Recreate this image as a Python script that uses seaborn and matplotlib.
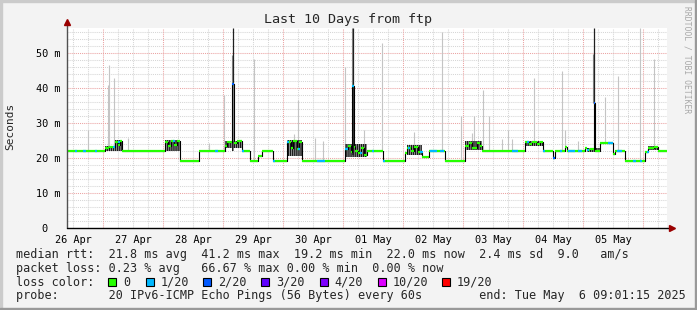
import numpy as np
import matplotlib
matplotlib.use("Agg")
import matplotlib.pyplot as plt
from matplotlib.patches import Rectangle
import seaborn as sns

# ---------------- data (x in days since 26 Apr 00:00, y in ms) ----------------
median_t = [0.395, 1.030, 1.100, 1.195, 1.250, 1.280, 1.312, 2.028, 2.080, 2.120,
            2.180, 2.220, 2.278, 2.595, 3.028, 3.060, 3.150, 3.175, 3.220, 3.312,
            3.445, 3.578, 3.645, 3.828, 4.062, 4.120, 4.160, 4.220, 4.260, 4.312,
            5.028, 5.080, 5.120, 5.150, 5.175, 5.200, 5.250, 5.300, 5.350, 5.395,
            5.662, 6.028, 6.062, 6.120, 6.180, 6.250, 6.312, 6.428, 6.695, 7.028,
            7.100, 7.150, 7.220, 7.270, 7.312, 8.028, 8.100, 8.150, 8.220, 8.280,
            8.328, 8.495, 8.528, 8.695, 8.728, 9.028, 9.062, 9.120, 9.170, 9.187,
            9.278, 9.495, 9.528, 9.695, 10.028, 10.078, 10.180, 10.245, 10.395]
median_v = [22.2, 22.8, 23.1, 24.6, 23.8, 24.8, 22.2, 24.6, 23.6, 24.9,
            23.8, 25.0, 19.3, 22.2, 23.6, 24.7, 41.2, 24.5, 24.8, 22.2,
            19.3, 20.6, 22.2, 19.3, 24.7, 23.0, 24.8, 22.6, 24.7, 19.3,
            22.6, 23.4, 21.8, 40.5, 23.2, 22.0, 21.6, 23.0, 20.8, 22.2,
            19.3, 21.5, 23.0, 22.0, 23.3, 21.8, 20.5, 22.2, 19.3, 23.5,
            24.3, 23.0, 24.5, 23.4, 22.2, 24.6, 24.0, 24.7, 24.1, 24.6,
            22.2, 20.0, 22.2, 23.3, 22.2, 23.0, 22.4, 22.7, 35.7, 22.2,
            24.4, 21.2, 22.2, 19.3, 21.8, 23.0, 23.1, 22.2, 22.2]

# packet-loss periods on the median line (level = lost pings out of 20)
loss_t0 = [0.528, 0.662, 0.862, 1.162, 1.245, 2.162, 2.862, 3.150, 3.312, 3.828,
           4.062, 4.245, 4.562, 5.028, 5.150, 5.278, 5.478, 5.662, 6.078, 6.278,
           6.445, 6.612, 7.812, 8.062, 8.328, 8.495, 8.612, 8.745, 8.912, 9.062,
           9.170, 9.412, 9.562, 9.828, 9.945, 10.062]
loss_t1 = [0.562, 0.712, 0.895, 1.195, 1.278, 2.195, 2.912, 3.175, 3.345, 3.862,
           4.095, 4.278, 4.695, 5.078, 5.175, 5.312, 5.512, 5.695, 6.112, 6.328,
           6.562, 6.678, 7.912, 8.095, 8.362, 8.528, 8.645, 8.862, 8.978, 9.095,
           9.187, 9.495, 9.645, 9.878, 9.978, 10.095]
loss_level = [1, 1, 1, 1, 1, 1, 1, 2, 1, 1,
              1, 1, 1, 1, 1, 1, 1, 1, 1, 1,
              1, 1, 1, 1, 1, 2, 1, 1, 1, 1,
              2, 1, 1, 1, 1, 1]

# dense smoke (spread of the 20 pings)
smoke_t0 = [1.030, 1.195, 2.028, 3.028, 3.150, 4.062, 5.028, 5.150, 6.062, 7.028,
            8.028, 9.062, 9.170, 10.078]
smoke_t1 = [1.195, 1.312, 2.278, 3.312, 3.175, 4.312, 5.395, 5.175, 6.312, 7.312,
            8.328, 9.278, 9.187, 10.245]
smoke_lo = [22.0, 22.0, 22.0, 23.0, 22.0, 20.6, 20.5, 21.0, 21.0, 22.5,
            23.6, 21.8, 22.0, 22.5]
smoke_hi = [23.6, 25.2, 25.3, 25.0, 41.2, 25.2, 24.0, 40.5, 23.8, 24.8,
            25.0, 23.0, 35.7, 23.4]

# outlier pings (max smoke)
spike_t = [0.745, 1.070, 1.103, 1.183, 1.412, 2.762, 3.012, 3.512, 4.178, 4.245,
           4.528, 4.662, 5.028, 5.345, 5.645, 6.178, 6.645, 6.962, 7.145, 7.178,
           7.328, 7.428, 7.645, 7.745, 7.812, 8.178, 8.645, 8.695, 8.912, 9.362,
           9.578, 9.945, 10.178]
spike_top = [28.0, 41.0, 46.6, 43.0, 25.7, 24.4, 38.0, 48.4, 27.0, 36.6,
             25.7, 25.0, 46.0, 28.0, 52.9, 27.6, 56.2, 32.2, 27.3, 32.2,
             39.5, 32.0, 25.5, 28.0, 25.5, 43.0, 44.9, 28.0, 24.8, 37.6,
             43.6, 57.2, 48.4]
dark_spike_t = [3.165, 5.165, 9.180]
dark_spike_top = [57.2, 57.2, 57.2]
grey_spike_top = [49.5, 57.2, 49.8]

day_labels = ["26 Apr", "27 Apr", "28 Apr", "29 Apr", "30 Apr",
              "01 May", "02 May", "03 May", "04 May", "05 May"]
day_label_pos = [0.5, 1.5, 2.5, 3.5, 4.5, 5.5, 6.5, 7.5, 8.5, 9.5]
y_ticks = [0, 10, 20, 30, 40, 50]
y_labels = ["0  ", "10 m", "20 m", "30 m", "40 m", "50 m"]

loss_colors = ["#26ff00", "#00b8ff", "#0059ff", "#5e00ff", "#7e00ff", "#dd00ff", "#ff0000"]
loss_names = ["0", "1/20", "2/20", "3/20", "4/20", "10/20", "19/20"]

title = "Last 10 Days from ftp"
row1 = "median rtt:  21.8 ms avg  41.2 ms max  19.2 ms min  22.0 ms now  2.4 ms sd  9.0   am/s"
row2 = "packet loss: 0.23 % avg   66.67 % max 0.00 % min  0.00 % now"
row3 = "loss color:"
row4 = "probe:       20 IPv6-ICMP Echo Pings (56 Bytes) every 60s        end: Tue May  6 09:01:15 2025"

# ---------------- drawing ----------------
sns.set_theme(style="white")
plt.rcParams["font.family"] = ["DejaVu Sans Mono", "DejaVu Sans"]
plt.rcParams["hatch.linewidth"] = 1.0

W, H = 697, 310
fig = plt.figure(figsize=(W / 100, H / 100), dpi=100, facecolor="#f3f3f3")
ax = fig.add_axes([67 / W, (H - 228.3) / H, 600 / W, 200.3 / H])
ax.set_facecolor("white")
XMIN, XMAX, YMAX = 0.395, 10.395, 57.2
ax.set_xlim(XMIN, XMAX)
ax.set_ylim(0, YMAX)
for s in ax.spines.values():
    s.set_visible(False)

# grid
dot = (0, (1, 1))
for q in np.arange(0.5, 10.3, 0.25):
    if abs(q - round(q)) > 1e-6:
        ax.axvline(q, color="#d6d6d6", lw=0.75, ls=dot, zorder=0.5)
for yv in np.arange(2, 57, 2):
    if yv % 10:
        ax.axhline(yv, color="#d6d6d6", lw=0.75, ls=dot, zorder=0.5)
for q in range(1, 11):
    ax.axvline(q, color="#eba3a3", lw=0.75, ls=dot, zorder=0.6)
for yv in range(10, 60, 10):
    ax.axhline(yv, color="#eba3a3", lw=0.75, ls=dot, zorder=0.6)

mt = np.array(median_t)
mv = np.array(median_v)


def median_at(t):
    i = np.searchsorted(mt, t, side="right") - 1
    return mv[np.clip(i, 0, len(mv) - 1)]


# outlier smoke
ax.vlines(spike_t, median_at(np.array(spike_t)), spike_top, colors="#c4c4c4", lw=0.8, zorder=1)
ax.vlines(np.array(dark_spike_t) - 0.012, median_at(np.array(dark_spike_t)), grey_spike_top,
          colors="#8a8a8a", lw=0.8, zorder=1.1)
ax.vlines(dark_spike_t, median_at(np.array(dark_spike_t)), dark_spike_top, colors="#202020",
          lw=0.9, zorder=1.2)

# dense smoke: grey haze with dark vertical streaks
for a, b, lo, hi in zip(smoke_t0, smoke_t1, smoke_lo, smoke_hi):
    ax.fill_between([a, b], [lo, lo], [hi, hi], facecolor="#8c8c8c", alpha=0.55, lw=0, zorder=1.4)
    ax.fill_between([a, b], [lo, lo], [hi, hi], facecolor="none", edgecolor="#1a1a1a",
                    hatch="|" * 8, lw=0, zorder=1.5)

# median line: thin black connectors + thick loss-coloured steps
sns.lineplot(x=median_t, y=median_v, drawstyle="steps-post", color="black", lw=0.8,
             estimator=None, sort=False, ax=ax, zorder=2)
ax.hlines(mv[:-1], mt[:-1], mt[1:], colors=loss_colors[0], lw=1.6, zorder=3)
ax.hlines(median_at(np.array(loss_t0)), loss_t0, loss_t1,
          colors=[loss_colors[k] for k in loss_level], lw=1.6, zorder=3.1)

# axes lines with arrows
ax.plot([0, 0], [0, 1.028], transform=ax.transAxes, color="#505050", lw=1, clip_on=False, zorder=4)
ax.plot([0, 1.008], [0, 0], transform=ax.transAxes, color="black", lw=1, clip_on=False, zorder=4)
ax.plot([0], [1.03], marker="^", ms=4, color="#9a0000", transform=ax.transAxes, clip_on=False, zorder=5)
ax.plot([1.008], [0], marker=">", ms=4, color="#9a0000", transform=ax.transAxes, clip_on=False, zorder=5)

ax.set_xticks(day_label_pos)
ax.set_xticklabels(day_labels, fontsize=7.4)
ax.set_yticks(y_ticks)
ax.set_yticklabels(y_labels, fontsize=7.4)
ax.tick_params(axis="both", length=0, colors="black")
ax.tick_params(axis="y", pad=5)
ax.tick_params(axis="x", pad=5)
ax.set_xlabel("")
ax.set_ylabel("")


def ft(x, y, s, **kw):
    fig.text(x / W, 1 - y / H, s, **kw)


ft(348.5, 19, title, fontsize=9.6, ha="center", va="center")
ft(10.5, 126, "Seconds", fontsize=8, rotation=90, ha="center", va="center")
ft(687, 60, "RRDTOOL / TOBI OETIKER", fontsize=5.8, rotation=270, ha="center", va="center",
   color="#a8a8a8")

LF = 8.5
ft(16, 254.3, row1, fontsize=LF, va="center")
ft(16, 268.3, row2, fontsize=LF, va="center")
ft(16, 282.3, row3, fontsize=LF, va="center")
ft(16, 296.0, row4, fontsize=LF, va="center")

box_x = [108.3, 145.7, 203.3, 261.0, 320.0, 378.3, 441.7]
for bx, c, name in zip(box_x, loss_colors, loss_names):
    fig.patches.append(Rectangle((bx / W, 1 - 286.3 / H), 8 / W, 8 / H, transform=fig.transFigure,
                                 facecolor=c, edgecolor="black", lw=0.8))
    ft(bx + 14.7, 282.3, name, fontsize=LF, va="center")

# 3D frame
fig.patches.append(Rectangle((0, 1 - 2 / H), 1, 2 / H, transform=fig.transFigure, color="#cbcbcb"))
fig.patches.append(Rectangle((0, 0), 2 / W, 1, transform=fig.transFigure, color="#cbcbcb"))
fig.patches.append(Rectangle((0, 0), 1, 2 / H, transform=fig.transFigure, color="#999999"))
fig.patches.append(Rectangle((1 - 2 / W, 0), 2 / W, 1, transform=fig.transFigure, color="#999999"))

fig.savefig("out.png", dpi=100, facecolor=fig.get_facecolor())
